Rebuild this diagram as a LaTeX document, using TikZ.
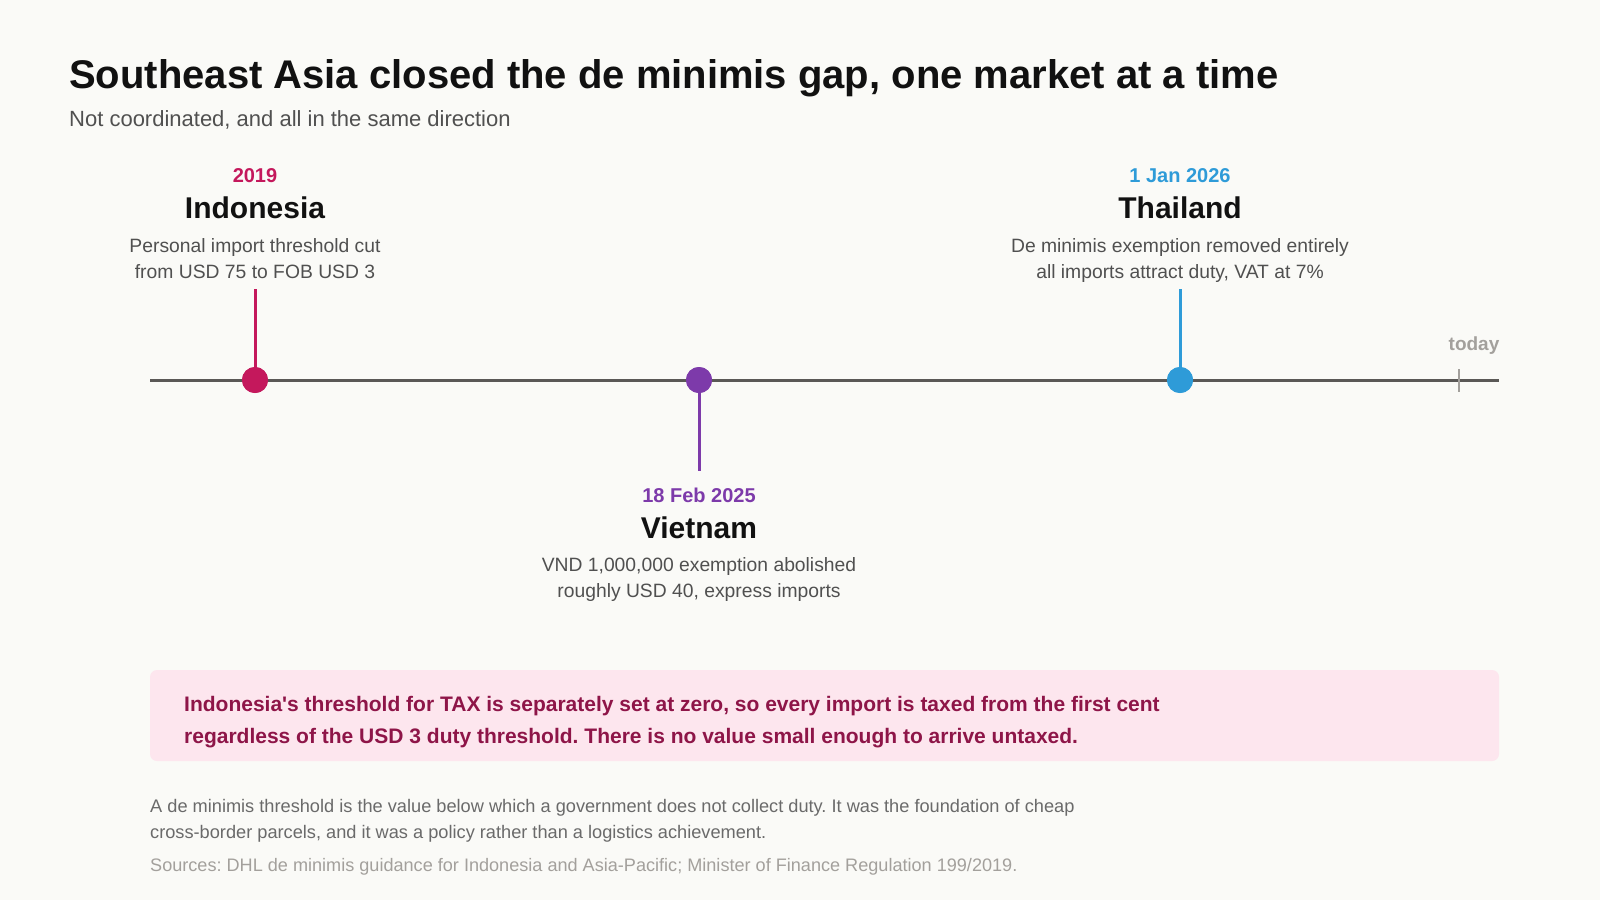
\documentclass[tikz,border=0pt]{standalone}
\usepackage{fontspec}
\setmainfont{Liberation Sans}
\frenchspacing
\definecolor{paper}{HTML}{FAFAF7}
\definecolor{ink}{HTML}{111111}
\definecolor{body}{HTML}{505050}
\definecolor{axis}{HTML}{5A5856}
\definecolor{indo}{HTML}{C4185C}
\definecolor{viet}{HTML}{7D3AAA}
\definecolor{thai}{HTML}{2E9BD8}
\definecolor{mute}{HTML}{A3A09C}
\definecolor{notefill}{HTML}{FDE6EE}
\definecolor{noteink}{HTML}{8E1548}
\newcommand{\fs}[1]{\fontsize{#1}{#1}\selectfont}
\tikzset{
  txt/.style={inner sep=0pt, anchor=base},
  datelbl/.style={txt, font=\fs{20}\bfseries},
  namelbl/.style={txt, font=\fs{30}\bfseries, text=ink},
  desclbl/.style={txt, font=\fs{19.3}, text=body},
  dot/.style={circle, minimum size=26pt, inner sep=0pt},
  stem/.style={line width=3pt},
  axisline/.style={line width=3pt, draw=axis}
}
\begin{document}
\begin{tikzpicture}[x=1pt, y=-1pt]
\fill[paper] (0,0) rectangle (1600,900);
\useasboundingbox (0,0) rectangle (1600,900);
% heading
\node[txt, anchor=base west, font=\fs{40}\bfseries, text=ink] (title) at (69,88) {Southeast Asia closed the de minimis gap, one market at a time};
\node[txt, anchor=base west, font=\fs{22}, text=body] (subtitle) at (69,126) {Not coordinated, and all in the same direction};
% timeline
\coordinate (axisL) at (150,380); \coordinate (axisR) at (1499,380);
\draw[axisline] (axisL) -- (axisR);
\coordinate (todayTop) at (1459,369); \coordinate (todayBot) at (1459,392);
\draw[line width=2.5pt, draw=mute] (todayTop) -- (todayBot);
\node[txt, font=\fs{19}\bfseries, text=mute] (today) at (1474,350) {today};
% Indonesia
\coordinate (indoTop) at (255,289);
\node[dot, fill=indo] (indoDot) at (255,380) {};
\draw[stem, draw=indo] (indoTop) -- (indoDot.center);
\node[dot, fill=indo] at (indoDot) {};
\node[datelbl, text=indo] (indoDate) at (255,182) {2019};
\node[namelbl] (indoName) at (255,218) {Indonesia};
\node[desclbl] (indoD1) at (255,252) {Personal import threshold cut};
\node[desclbl] (indoD2) at (255,278) {from USD 75 to FOB USD 3};
% Vietnam
\coordinate (vietBot) at (699,471);
\node[dot, fill=viet] (vietDot) at (699,380) {};
\draw[stem, draw=viet] (vietDot.center) -- (vietBot);
\node[dot, fill=viet] at (vietDot) {};
\node[datelbl, text=viet] (vietDate) at (699,502) {18 Feb 2025};
\node[namelbl] (vietName) at (699,538) {Vietnam};
\node[desclbl] (vietD1) at (699,571) {VND 1,000,000 exemption abolished};
\node[desclbl] (vietD2) at (699,597) {roughly USD 40, express imports};
% Thailand
\coordinate (thaiTop) at (1180,289);
\node[dot, fill=thai] (thaiDot) at (1180,380) {};
\draw[stem, draw=thai] (thaiTop) -- (thaiDot.center);
\node[dot, fill=thai] at (thaiDot) {};
\node[datelbl, text=thai] (thaiDate) at (1180,182) {1 Jan 2026};
\node[namelbl] (thaiName) at (1180,218) {Thailand};
\node[desclbl] (thaiD1) at (1180,252) {De minimis exemption removed entirely};
\node[desclbl] (thaiD2) at (1180,278) {all imports attract duty, VAT at 7\%};
% callout
\fill[notefill, rounded corners=7pt] (150,670) rectangle (1499,761);
\node[txt, anchor=base west, font=\fs{21}\bfseries, text=noteink] (note1) at (184,711) {Indonesia\textquotesingle s threshold for TAX is separately set at zero, so every import is taxed from the first cent};
\node[txt, anchor=base west, font=\fs{21}\bfseries, text=noteink] (note2) at (184,743) {regardless of the USD 3 duty threshold. There is no value small enough to arrive untaxed.};
% footer
\node[txt, anchor=base west, font=\fs{18.2}, text=body!85] (foot1) at (150,812) {A de minimis threshold is the value below which a government does not collect duty. It was the foundation of cheap};
\node[txt, anchor=base west, font=\fs{18.2}, text=body!85] (foot2) at (150,838) {cross-border parcels, and it was a policy rather than a logistics achievement.};
\node[txt, anchor=base west, font=\fs{18.1}, text=mute] (sources) at (150,871) {Sources: DHL de minimis guidance for Indonesia and Asia-Pacific; Minister of Finance Regulation 199/2019.};
\end{tikzpicture}
\end{document}
